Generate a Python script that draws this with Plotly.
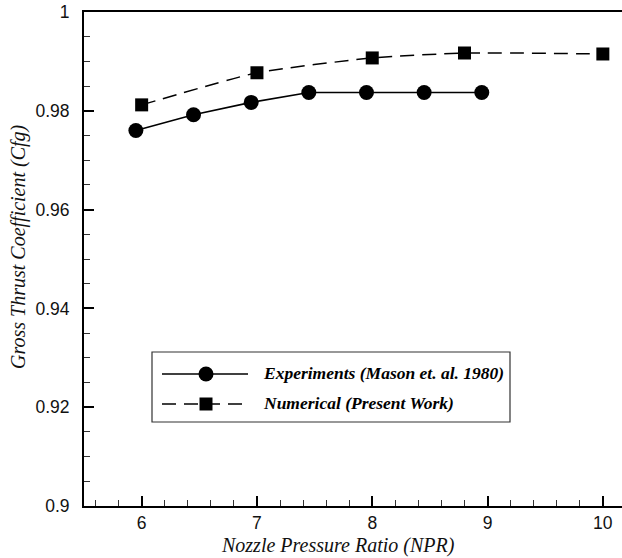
import plotly.graph_objects as go

# Measured gross thrust coefficient vs nozzle pressure ratio
exp_npr = [5.95, 6.45, 6.95, 7.45, 7.95, 8.45, 8.95]
exp_cfg = [0.9760, 0.9792, 0.9817, 0.9837, 0.9837, 0.9837, 0.9837]

# CFD results
num_npr = [6.0, 7.0, 8.0, 8.8, 10.0]
num_cfg = [0.9812, 0.9877, 0.9907, 0.9917, 0.9915]

x_ticks = [6, 7, 8, 9, 10]
x_ticktext = ["6", "7", "8", "9", "10"]
y_ticks = [0.9, 0.92, 0.94, 0.96, 0.98, 1.0]
y_ticktext = ["0.9", "0.92", "0.94", "0.96", "0.98", "1"]

legend_labels = ["Experiments (Mason et. al. 1980)", "Numerical (Present Work)"]
x_title = "Nozzle Pressure Ratio (NPR)"
y_title = "Gross Thrust Coefficient (Cfg)"

W, H = 622, 558
ML, MR, MT, MB = 84, 0, 12, 52
PW, PH = W - ML - MR, H - MT - MB

SERIF = "Liberation Serif"
SANS = "Liberation Sans"


def px(x):
    return (x - ML) / PW


def py(y):
    return (H - MB - y) / PH


fig = go.Figure()

fig.add_trace(go.Scatter(
    x=exp_npr, y=exp_cfg, mode="lines+markers",
    line=dict(color="black", width=1.6),
    marker=dict(symbol="circle", size=15, color="black"),
    showlegend=False,
))
fig.add_trace(go.Scatter(
    x=num_npr, y=num_cfg, mode="lines+markers",
    line=dict(color="black", width=1.5, dash="14px,8px", shape="spline", smoothing=0.5),
    marker=dict(symbol="square", size=13, color="black"),
    showlegend=False,
))

# Framed legend drawn with shapes and annotations
shapes = [
    dict(type="rect", xref="paper", yref="paper",
         x0=px(152), x1=px(510), y0=py(422), y1=py(352),
         line=dict(color="#333", width=1.2), fillcolor="white", layer="above"),
    dict(type="line", xref="paper", yref="paper",
         x0=px(162), x1=px(248), y0=py(374), y1=py(374),
         line=dict(color="black", width=1.6), layer="above"),
    dict(type="circle", xref="paper", yref="paper",
         x0=px(206 - 7.5), x1=px(206 + 7.5), y0=py(374 + 7.5), y1=py(374 - 7.5),
         line=dict(color="black", width=0), fillcolor="black", layer="above"),
    dict(type="line", xref="paper", yref="paper",
         x0=px(162), x1=px(248), y0=py(404), y1=py(404),
         line=dict(color="black", width=1.5, dash="14px,8px"), layer="above"),
    dict(type="rect", xref="paper", yref="paper",
         x0=px(206 - 6.5), x1=px(206 + 6.5), y0=py(404 + 6.5), y1=py(404 - 6.5),
         line=dict(color="black", width=0), fillcolor="black", layer="above"),
]

annotations = []
for label, yy in zip(legend_labels, [373, 403]):
    annotations.append(dict(
        x=px(261), y=py(yy), xref="paper", yref="paper",
        xanchor="left", yanchor="middle", showarrow=False,
        text=f"<b><i>{label}</i></b>",
        font=dict(family=SERIF, size=17.5, color="black"),
    ))

# Axis titles placed as annotations
annotations.append(dict(
    x=px(338), y=py(545), xref="paper", yref="paper",
    xanchor="center", yanchor="middle", showarrow=False,
    text=f"<i>{x_title}</i>", font=dict(family=SERIF, size=20, color="#111"),
))
annotations.append(dict(
    x=px(18), y=py(247), xref="paper", yref="paper",
    xanchor="center", yanchor="middle", showarrow=False, textangle=-90,
    text=f"<i>{y_title}</i>", font=dict(family=SERIF, size=20, color="#111"),
))

fig.update_layout(
    width=W, height=H,
    margin=dict(l=ML, r=MR, t=MT, b=MB),
    paper_bgcolor="white", plot_bgcolor="white",
    shapes=shapes, annotations=annotations,
    showlegend=False,
)

fig.update_xaxes(
    range=[5.5, 5.5 + (W - ML) / 115.3],
    tickmode="array", tickvals=x_ticks, ticktext=x_ticktext,
    showgrid=False, zeroline=False,
    showline=True, linecolor="black", linewidth=2, mirror=True,
    ticks="inside", ticklen=10, tickwidth=2, tickcolor="black",
    minor=dict(ticks="inside", ticklen=6, tickwidth=1, tickcolor="#333", dtick=0.2, showgrid=False),
    tickfont=dict(family=SANS, size=17.5, color="#111"),
)
fig.update_yaxes(
    range=[0.9, 1.0],
    tickmode="array", tickvals=y_ticks, ticktext=y_ticktext,
    showgrid=False, zeroline=False,
    showline=True, linecolor="black", linewidth=2, mirror=False,
    ticks="inside", ticklen=10, tickwidth=2, tickcolor="black",
    minor=dict(ticks="inside", ticklen=6, tickwidth=1, tickcolor="#333", dtick=0.005, showgrid=False),
    tickfont=dict(family=SANS, size=17.5, color="#111"),
    ticklabelstandoff=9,
)

fig.write_html("out.html")
